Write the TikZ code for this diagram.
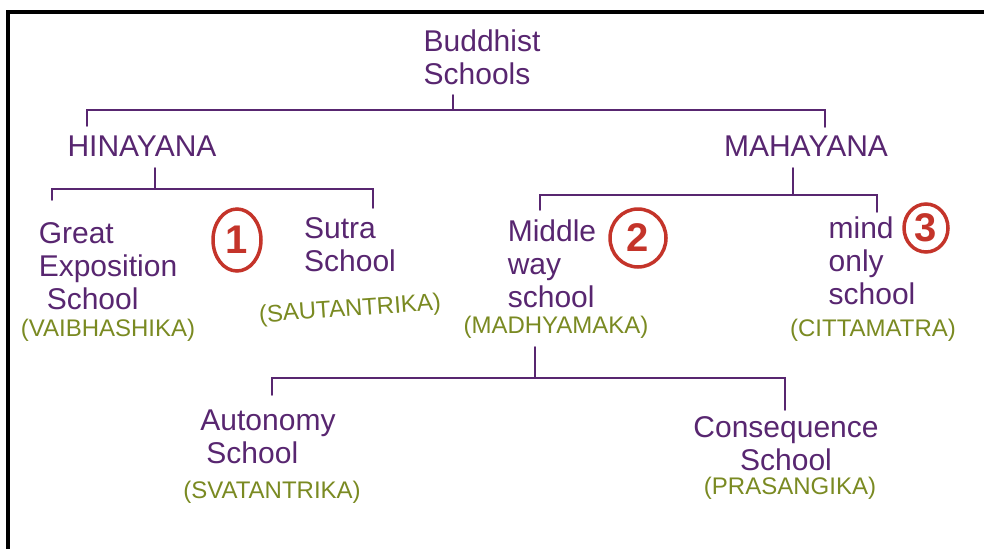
\documentclass[tikz,border=0pt]{standalone}
\usepackage{fontspec}
\setmainfont{Liberation Sans}
\usetikzlibrary{shapes.geometric}
\definecolor{ink}{RGB}{88,38,112}
\definecolor{inkgreen}{RGB}{122,138,34}
\definecolor{inkred}{RGB}{196,52,42}
\begin{document}
\begin{tikzpicture}[x=1pt,y=-1pt,
  lbl/.style={text=ink,font=\fontsize{30}{33}\selectfont,align=left,inner sep=0pt},
  skt/.style={text=inkgreen,font=\fontsize{24}{26}\selectfont,inner sep=0pt},
  num/.style={ellipse,draw=inkred,line width=3.5pt,text=inkred,font=\fontsize{40}{40}\selectfont\bfseries,inner sep=0pt},
  link/.style={draw=ink,line width=1.6pt,line cap=round}]
\useasboundingbox (0,0) rectangle (984,549);
%frame
\draw[line width=4pt] (984,12) -- (8,12) -- (8,549);
%names
\node[lbl] (root) at (482,57) {Buddhist\\Schools};
\node[lbl] (hina) at (142,146) {HINAYANA};
\node[lbl] (maha) at (806,146) {MAHAYANA};
\node[lbl] (great) at (108,266) {Great\\Exposition\\\hspace{8pt}School};
\node[skt] (vaib) at (108,330) {(VAIBHASHIKA)};
\node[lbl] (sutra) at (350,245) {Sutra\\School};
\node[skt,rotate=4] (saut) at (350,310) {(SAUTANTRIKA)};
\node[lbl] (mid) at (552,264) {Middle\\way\\school};
\node[skt] (madh) at (556,327) {(MADHYAMAKA)};
\node[lbl] (mind) at (872,261) {mind\\only\\school};
\node[skt] (citt) at (873,330) {(CITTAMATRA)};
\node[lbl] (auto) at (268,437) {Autonomy\\\hspace{6pt}School};
\node[lbl,align=center] (cons) at (786,444) {Consequence\\School};
\node[skt] (svat) at (272,492) {(SVATANTRIKA)};
\node[skt] (pras) at (790,488) {(PRASANGIKA)};
%numbers
\node[num,minimum width=48pt,minimum height=62pt] (n1) at (237,240) {1};
\node[num,minimum width=56pt,minimum height=58pt] (n2) at (638,238) {2};
\node[num,minimum width=44pt,minimum height=48pt] (n3) at (926,228) {3};
%buddhist schools split
\coordinate (s0) at (453,95); \coordinate (b0) at (453,110);
\coordinate (l0) at (87,126); \coordinate (r0) at (825,127);
\draw[link] (s0) -- (b0) (l0) |- (b0) -| (r0);
%hinayana split
\coordinate (s1) at (155,168); \coordinate (b1) at (155,189);
\coordinate (l1) at (52,200); \coordinate (r1) at (373,208);
\draw[link] (s1) -- (b1) (l1) |- (b1) -| (r1);
%mahayana split
\coordinate (s2) at (793,168); \coordinate (b2) at (793,195);
\coordinate (l2) at (540,210); \coordinate (r2) at (877,212);
\draw[link] (s2) -- (b2) (l2) |- (b2) -| (r2);
%madhyamaka split
\coordinate (s3) at (535,347); \coordinate (b3) at (535,378);
\coordinate (l3) at (272,395); \coordinate (r3) at (785,410);
\draw[link] (s3) -- (b3) (l3) |- (b3) -| (r3);
\end{tikzpicture}
\end{document}
